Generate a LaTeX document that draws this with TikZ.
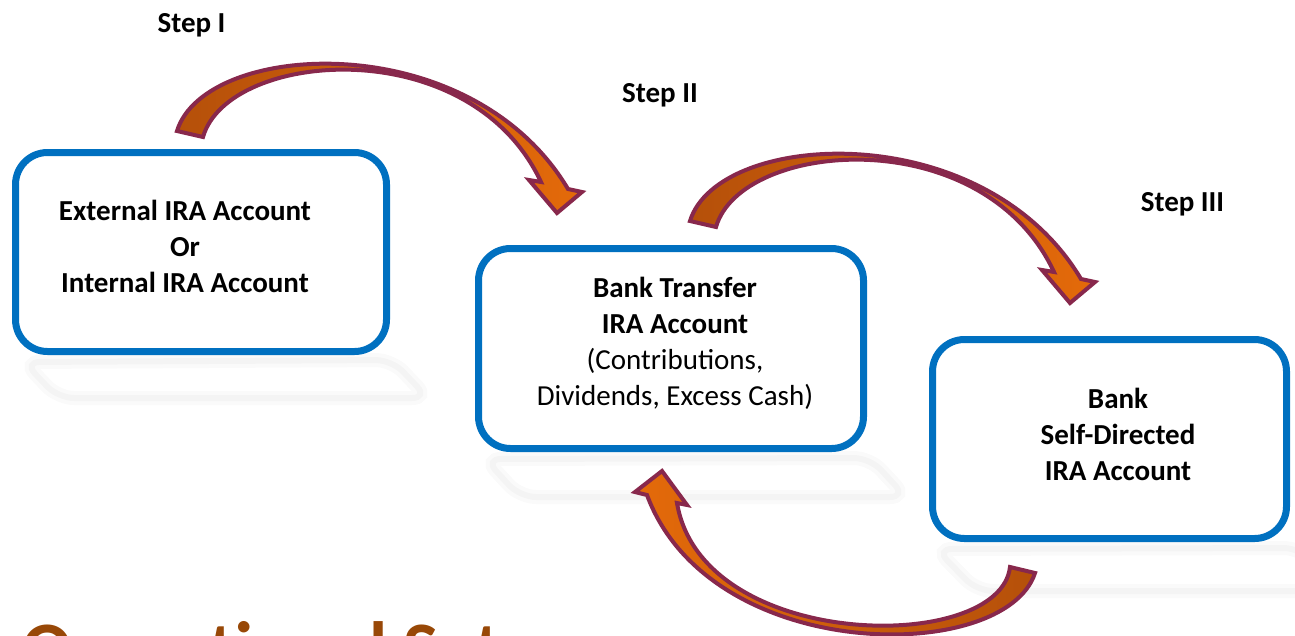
\documentclass[tikz,border=0pt]{standalone}
\usepackage{fontspec}
\setmainfont{Carlito}
\definecolor{boxblue}{RGB}{0,112,192}
\definecolor{arrowedge}{RGB}{136,40,76}
\definecolor{arrowdark}{RGB}{181,80,10}
\definecolor{arrowlight}{RGB}{228,106,10}
\definecolor{titlebrown}{RGB}{152,72,7}
\begin{document}
\begin{tikzpicture}[x=1pt,y=-1pt,
  box/.style={draw=boxblue,line width=7pt,rounded corners=32pt,fill=white,inner sep=0pt},
  boxtext/.style={anchor=base,inner sep=0pt,font=\fontsize{29}{36}\selectfont},
  steplabel/.style={anchor=base,inner sep=0pt,font=\fontsize{29}{36}\selectfont\bfseries},
  arrowbody/.style={draw=arrowedge,line width=4pt,line join=miter,miter limit=6},
  reflwide/.style={draw=black,draw opacity=0.018,line width=14pt,rounded corners=16pt},
  reflthin/.style={draw=black,draw opacity=0.025,line width=6pt,rounded corners=16pt}]
\useasboundingbox (0,0) rectangle (1295,635);
\clip (0,0) rectangle (1295,635);
\fill[white] (0,0) rectangle (1295,635);

% reflections
\foreach \s in {reflwide,reflthin}{
  \draw[\s] (24,362) -- (58,398) -- (428,398) -- (392,360) -- cycle;
  \draw[\s] (485,459) -- (520,497) -- (906,497) -- (870,458) -- cycle;
  \draw[\s] (936,549) -- (977,591) -- (1340,591) -- (1300,548) -- cycle;
}

% boxes
\node[box,minimum width=371pt,minimum height=199pt] (b1) at (201,252) {};
\node[box,minimum width=385pt,minimum height=200pt] (b2) at (671,348.5) {};
\node[box,minimum width=354pt,minimum height=199pt] (b3) at (1109.5,439) {};

% box texts
\node[boxtext] (t1) at (185,220) {\bfseries\begin{tabular}[t]{@{}c@{}}External IRA Account\\Or\\Internal IRA Account\end{tabular}};
\node[boxtext] (t2) at (675,297) {\begin{tabular}[t]{@{}c@{}}\textbf{Bank Transfer}\\\textbf{IRA Account}\\(Contributions,\\Dividends, Excess Cash)\end{tabular}};
\node[boxtext] (t3) at (1118,408) {\bfseries\begin{tabular}[t]{@{}c@{}}Bank\\Self-Directed\\IRA Account\end{tabular}};

% step labels
\node[steplabel] (s1) at (191.5,32.5) {Step I};
\node[steplabel] (s2) at (660,102) {Step II};
\node[steplabel] (s3) at (1182.5,211.5) {Step III};

% curved block arrows
\path[arrowbody,left color=arrowdark,right color=arrowlight]
  (177,131) .. controls (205,40) and (470,25) .. (568,189)
  -- (582,192) -- (557,213) -- (529,180) -- (541,182)
  .. controls (470,30) and (228,50) .. (203,137) -- cycle;
\begin{scope}[shift={(513,90)}]
\path[arrowbody,left color=arrowdark,right color=arrowlight]
  (177,131) .. controls (205,40) and (470,25) .. (568,189)
  -- (582,192) -- (557,213) -- (529,180) -- (541,182)
  .. controls (470,30) and (228,50) .. (203,137) -- cycle;
\end{scope}
\path[arrowbody,left color=arrowlight,right color=arrowdark]
  (1035,573) .. controls (1005,665) and (710,665) .. (647,495)
  -- (635,492) -- (662,471) -- (687,505) -- (677,503)
  .. controls (702,652) and (1000,655) .. (1010,567) -- cycle;

% title (cut off at bottom, as in the original)
\node[anchor=base west,inner sep=0pt,text=titlebrown,font=\fontsize{74}{80}\selectfont\bfseries] (title) at (22,673) {Operational Setup};
\end{tikzpicture}
\end{document}
